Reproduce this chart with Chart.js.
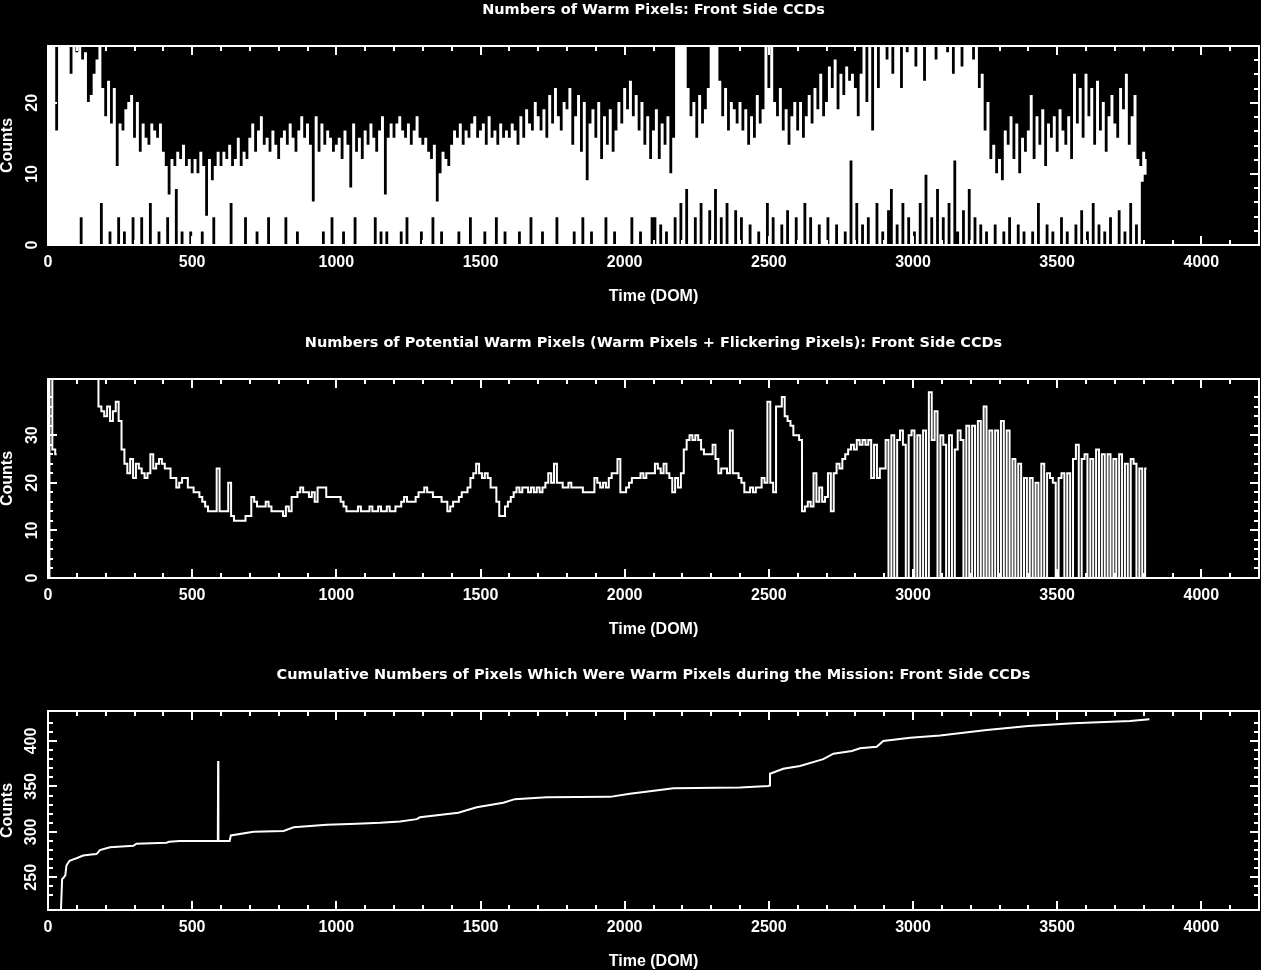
<!DOCTYPE html>
<html>
<head>
<meta charset="utf-8">
<title>Warm Pixels: Front Side CCDs</title>
<script src="https://cdn.jsdelivr.net/npm/chart.js@4.4.1/dist/chart.umd.min.js"></script>
<style>
    html, body { margin: 0; padding: 0; background: #000; }
    body { width: 1261px; height: 970px; position: relative; overflow: hidden; }
    canvas { position: absolute; left: 0; }
</style>
</head>
<body>
<canvas id="warmChart" width="1261" height="305" style="top:0px"></canvas>
<canvas id="potentialChart" width="1261" height="305" style="top:333px"></canvas>
<canvas id="cumulativeChart" width="1261" height="305" style="top:665px"></canvas>
<script>
// Panel 1: daily warm pixel counts, one value every 5 DOM starting at DOM 0
const warmDomStep = 5;
const warmCounts = [
    30, 0, 30, 0, 30, 0, 16, 0, 30, 0, 30, 0, 30, 0, 30, 0, 24, 0, 30, 0,
    27, 0, 28, 4, 26, 0, 27, 0, 20, 0, 21, 0, 24, 0, 26, 0, 28, 6, 22, 0,
    18, 0, 23, 2, 17, 0, 22, 0, 11, 4, 17, 0, 16, 2, 19, 0, 20, 0, 21, 4,
    15, 0, 20, 0, 13, 4, 17, 0, 15, 0, 14, 6, 17, 0, 16, 0, 15, 2, 17, 0,
    13, 0, 11, 4, 7, 0, 12, 0, 11, 8, 13, 0, 12, 2, 14, 0, 11, 0, 12, 2,
    10, 0, 12, 0, 10, 0, 13, 2, 11, 0, 4, 0, 12, 0, 9, 4, 11, 0, 13, 0,
    11, 0, 13, 0, 12, 0, 14, 6, 11, 0, 12, 0, 15, 0, 11, 0, 13, 4, 12, 0,
    15, 0, 17, 0, 13, 2, 16, 0, 18, 0, 14, 0, 15, 4, 13, 0, 16, 0, 14, 0,
    12, 0, 15, 0, 16, 4, 14, 0, 17, 0, 15, 0, 13, 2, 16, 0, 18, 0, 15, 0,
    17, 0, 14, 0, 6, 0, 18, 0, 13, 0, 17, 2, 14, 0, 16, 0, 15, 4, 13, 0,
    14, 0, 15, 0, 12, 2, 16, 0, 14, 0, 8, 0, 17, 4, 13, 0, 15, 0, 12, 0,
    16, 0, 14, 0, 17, 0, 15, 4, 13, 0, 16, 2, 18, 0, 7, 2, 15, 0, 17, 0,
    15, 0, 17, 0, 18, 2, 16, 0, 15, 4, 17, 0, 14, 0, 16, 0, 18, 0, 15, 2,
    14, 0, 15, 0, 13, 0, 12, 4, 14, 0, 6, 0, 10, 2, 13, 0, 12, 0, 11, 0,
    14, 0, 16, 0, 15, 2, 17, 0, 14, 0, 16, 0, 15, 4, 17, 0, 18, 0, 15, 0,
    16, 0, 17, 2, 14, 0, 18, 0, 15, 0, 16, 4, 14, 0, 17, 0, 15, 2, 16, 0,
    15, 0, 17, 0, 16, 0, 14, 2, 18, 0, 15, 0, 19, 0, 17, 4, 16, 0, 20, 0,
    18, 0, 16, 2, 19, 0, 15, 0, 21, 0, 17, 0, 22, 4, 18, 0, 16, 0, 20, 0,
    19, 0, 22, 0, 14, 2, 18, 0, 21, 0, 13, 4, 20, 0, 9, 0, 17, 2, 19, 0,
    15, 0, 20, 0, 12, 0, 18, 4, 14, 0, 19, 0, 13, 2, 16, 0, 20, 0, 17, 0,
    22, 0, 19, 0, 23, 4, 18, 0, 21, 0, 16, 2, 20, 0, 14, 0, 18, 0, 12, 4,
    16, 4, 19, 0, 12, 3, 17, 0, 14, 2, 18, 0, 10, 0, 15, 4, 30, 0, 30, 6,
    30, 0, 30, 8, 22, 0, 18, 0, 20, 4, 15, 0, 21, 6, 17, 0, 19, 0, 22, 5,
    30, 0, 30, 8, 30, 0, 23, 4, 18, 0, 22, 6, 16, 0, 20, 0, 19, 5, 17, 0,
    20, 4, 16, 0, 19, 0, 14, 3, 18, 0, 15, 0, 21, 2, 17, 0, 19, 0, 30, 6,
    22, 0, 30, 4, 20, 0, 18, 0, 22, 3, 16, 0, 19, 5, 14, 0, 18, 0, 20, 4,
    16, 0, 20, 0, 15, 6, 18, 0, 21, 4, 17, 0, 22, 0, 19, 3, 24, 0, 18, 0,
    20, 4, 25, 0, 22, 0, 26, 3, 19, 0, 24, 0, 21, 2, 25, 0, 23, 12, 24, 0,
    22, 6, 18, 0, 24, 3, 30, 0, 20, 4, 30, 0, 16, 0, 30, 6, 22, 0, 30, 2,
    30, 0, 26, 5, 30, 8, 24, 0, 30, 3, 30, 0, 22, 6, 30, 0, 27, 4, 30, 0,
    30, 2, 25, 0, 30, 6, 30, 0, 23, 10, 30, 0, 28, 4, 30, 0, 26, 8, 30, 0,
    30, 4, 30, 0, 27, 6, 30, 0, 24, 12, 30, 2, 30, 0, 25, 5, 30, 0, 30, 8,
    30, 0, 26, 4, 30, 0, 22, 3, 24, 0, 16, 2, 20, 0, 12, 0, 14, 3, 10, 0,
    12, 0, 9, 2, 16, 0, 14, 4, 18, 0, 12, 0, 17, 3, 10, 0, 15, 2, 13, 0,
    16, 0, 21, 2, 12, 0, 18, 6, 14, 0, 19, 0, 11, 3, 17, 0, 15, 2, 18, 0,
    13, 0, 19, 4, 16, 0, 14, 2, 18, 0, 12, 0, 24, 3, 17, 0, 22, 5, 15, 0,
    24, 2, 18, 0, 22, 6, 14, 0, 23, 3, 16, 0, 20, 2, 13, 0, 18, 4, 21, 0,
    17, 0, 15, 5, 22, 0, 19, 2, 24, 0, 14, 6, 18, 0, 21, 3, 12, 0, 11, 9,
    13, 10, 12
];

// Panel 2: potential warm pixels (warm + flickering), one value every 10 DOM; null = no data
const potentialDomStep = 10;
const potentialCounts = [
    0, 45, 27, 26, null, null, null, null, null, null,
    null, null, null, null, null, null, null, 45, 36, 35,
    34, 36, 33, 35, 37, 33, 27, 24, 22, 25,
    21, 24, 23, 22, 21, 22, 26, 23, 24, 25,
    24, 23, 23, 21, 21, 19, 20, 21, 21, 19,
    19, 18, 18, 17, 16, 15, 14, 14, 14, 23,
    14, 14, 14, 20, 13, 12, 12, 12, 12, 13,
    13, 17, 16, 15, 15, 15, 16, 15, 14, 14,
    14, 14, 13, 15, 14, 17, 17, 18, 19, 18,
    18, 17, 18, 16, 19, 19, 19, 17, 17, 17,
    17, 17, 16, 15, 14, 14, 14, 14, 15, 14,
    14, 14, 15, 14, 14, 15, 14, 14, 15, 14,
    14, 15, 15, 16, 17, 16, 16, 16, 17, 18,
    18, 19, 18, 18, 17, 17, 17, 16, 16, 14,
    15, 16, 16, 17, 18, 18, 19, 21, 22, 24,
    22, 21, 22, 21, 19, 19, 16, 13, 13, 15,
    16, 17, 18, 19, 18, 19, 19, 18, 19, 18,
    19, 18, 19, 20, 22, 20, 24, 20, 20, 19,
    19, 20, 19, 19, 19, 19, 18, 18, 18, 18,
    21, 20, 19, 20, 19, 21, 22, 22, 25, 18,
    18, 19, 20, 21, 21, 21, 22, 21, 22, 22,
    22, 24, 23, 22, 24, 22, 21, 18, 21, 19,
    22, 27, 29, 30, 29, 30, 29, 27, 26, 26,
    26, 28, 25, 22, 23, 23, 22, 31, 22, 22,
    21, 20, 18, 18, 19, 18, 19, 19, 21, 20,
    37, 20, 18, 36, 36, 38, 34, 33, 32, 30,
    30, 29, 14, 15, 16, 15, 22, 16, 19, 16,
    17, 22, 14, 22, 24, 23, 25, 26, 27, 28,
    27, 29, 28, 29, 28, 29, 21, 28, 21, 23,
    23, 29, 0, 30, 0, 29, 31, 28, 0, 30,
    31, 0, 30, 0, 31, 0, 39, 29, 35, 0,
    30, 28, 0, 30, 0, 27, 31, 29, 0, 32,
    0, 32, 0, 33, 0, 36, 0, 31, 0, 31,
    0, 33, 0, 31, 0, 25, 0, 24, 0, 21,
    0, 21, 0, 20, 0, 24, 0, 22, 21, 20,
    0, 21, 22, 0, 22, 0, 25, 28, 0, 25,
    26, 0, 25, 0, 27, 0, 26, 0, 26, 0,
    25, 0, 26, 0, 24, 0, 25, 24, 0, 23,
    0, 23
];

// Panel 3: cumulative number of pixels that were ever warm
const cumulativeDom = [
    40, 45, 49, 55, 60, 64, 70, 75, 90, 99,
    122, 150, 168, 175, 180, 215, 296, 307, 411, 420,
    457, 589, 590, 591, 630, 634, 713, 817, 852, 967,
    1071, 1152, 1221, 1279, 1290, 1423, 1487, 1579, 1619, 1729,
    1949, 2018, 2122, 2169, 2400, 2498, 2503, 2504, 2550, 2608,
    2689, 2724, 2788, 2816, 2874, 2897, 2990, 3094, 3175, 3256,
    3400, 3556, 3753, 3820
];
const cumulativeCounts = [
    200, 215, 248, 250, 252, 263, 266, 268, 270, 271,
    274, 275, 275.5, 278, 280, 283, 284.7, 287, 288, 289,
    290, 290, 378, 290, 290, 296, 300, 301, 305, 307.7,
    309, 310, 311.5, 314, 316, 321, 327, 332, 336, 338,
    338.5, 342, 346, 348, 348.7, 350.5, 351, 364, 369.5, 372.4,
    380, 386, 389, 392, 393.6, 400, 403.5, 406, 409, 412,
    416.5, 419.5, 422, 424
];

// Axis ranges and tick spacing
const domRange = [0, 4200];
const domTicks = { minor: 100, major: 500 };
const warmRange = [0, 28];
const warmTicks = { minor: 2, major: 10 };
const potentialRange = [0, 41.8];
const potentialTicks = { minor: 2, major: 10 };
const cumulativeRange = [214, 433];
const cumulativeTicks = { minor: 10, major: 50 };

const titles = [
    'Numbers of Warm Pixels: Front Side CCDs',
    'Numbers of Potential Warm Pixels (Warm Pixels + Flickering Pixels): Front Side CCDs',
    'Cumulative Numbers of Pixels Which Were Warm Pixels during the Mission: Front Side CCDs'
];

const axisFont = { family: 'Liberation Sans', size: 16, weight: 'bold', lineHeight: 1 };
const titleFont = { family: 'DejaVu Sans', size: 14.5, weight: 'bold', lineHeight: 1.2 };

// frame + inward ticks on all four sides, like the original IDL plots
const idlFrame = {
    id: 'idlFrame',
    afterDatasetsDraw(chart, args, opts) {
        const { ctx, chartArea: a, scales } = chart;
        ctx.save();
        ctx.strokeStyle = '#fff';
        ctx.lineWidth = 2;
        ctx.strokeRect(a.left, a.top, a.right - a.left, a.bottom - a.top);
        ctx.beginPath();
        scales.x.ticks.forEach(t => {
            if (t.value % opts.x.minor !== 0) return;
            const px = Math.round(scales.x.getPixelForValue(t.value));
            const len = t.value % opts.x.major === 0 ? 9 : 5;
            ctx.moveTo(px, a.bottom);
            ctx.lineTo(px, a.bottom - len);
            ctx.moveTo(px, a.top);
            ctx.lineTo(px, a.top + len);
        });
        scales.y.ticks.forEach(t => {
            if (t.value % opts.y.minor !== 0) return;
            const py = Math.round(scales.y.getPixelForValue(t.value));
            const len = t.value % opts.y.major === 0 ? 9 : 5;
            ctx.moveTo(a.left, py);
            ctx.lineTo(a.left + len, py);
            ctx.moveTo(a.right, py);
            ctx.lineTo(a.right - len, py);
        });
        ctx.stroke();
        ctx.restore();
    }
};

function makePanel(canvasId, title, points, yRange, yTicks, yLabelPad, lineWidth, stepped) {
    return new Chart(document.getElementById(canvasId), {
        type: 'line',
        data: {
            datasets: [{
                data: points,
                borderColor: '#fff',
                borderWidth: lineWidth,
                pointRadius: 0,
                stepped: stepped,
                spanGaps: false,
                tension: 0
            }]
        },
        options: {
            responsive: false,
            animation: false,
            events: [],
            layout: { padding: { left: 0, right: 2, top: 0, bottom: 0 } },
            plugins: {
                legend: { display: false },
                tooltip: { enabled: false },
                title: {
                    display: true,
                    fullSize: false,
                    text: title,
                    color: '#fff',
                    font: titleFont,
                    padding: { top: 2, bottom: 26.6 }
                },
                idlFrame: { x: domTicks, y: yTicks }
            },
            scales: {
                x: {
                    type: 'linear',
                    min: domRange[0],
                    max: domRange[1],
                    grid: { display: false, drawTicks: false },
                    border: { display: false },
                    ticks: {
                        stepSize: domTicks.minor,
                        autoSkip: false,
                        maxRotation: 0,
                        color: '#fff',
                        font: axisFont,
                        padding: 10,
                        callback: v => (v % domTicks.major === 0 ? String(v) : '')
                    },
                    title: {
                        display: true,
                        text: 'Time (DOM)',
                        color: '#fff',
                        font: axisFont,
                        padding: { top: 0, bottom: 0 }
                    },
                    afterFit: s => {
                        s.height = 60;
                        s.paddingLeft = 0;
                        s.paddingRight = 0;
                    }
                },
                y: {
                    type: 'linear',
                    min: yRange[0],
                    max: yRange[1],
                    grid: { display: false, drawTicks: false },
                    border: { display: false },
                    ticks: {
                        stepSize: yTicks.minor,
                        autoSkip: false,
                        minRotation: 90,
                        maxRotation: 90,
                        crossAlign: 'center',
                        color: '#fff',
                        font: axisFont,
                        padding: yLabelPad,
                        callback: v => (v % yTicks.major === 0 ? String(v) : '')
                    },
                    title: {
                        display: true,
                        text: 'Counts',
                        color: '#fff',
                        font: axisFont,
                        padding: { top: 0, bottom: 0 }
                    },
                    afterFit: s => { s.width = 48; }
                }
            }
        },
        plugins: [idlFrame]
    });
}

const warmPoints = warmCounts.map((c, i) => ({ x: i * warmDomStep, y: c }));
const potentialPoints = potentialCounts.map((c, i) => ({ x: i * potentialDomStep, y: c }));
const cumulativePoints = cumulativeDom.map((d, i) => ({ x: d, y: cumulativeCounts[i] }));

makePanel('warmChart', titles[0], warmPoints, warmRange, warmTicks, 7, 1.5, 'middle');
makePanel('potentialChart', titles[1], potentialPoints, potentialRange, potentialTicks, 7, 2, 'middle');
makePanel('cumulativeChart', titles[2], cumulativePoints, cumulativeRange, cumulativeTicks, 3, 2, false);
</script>
</body>
</html>
